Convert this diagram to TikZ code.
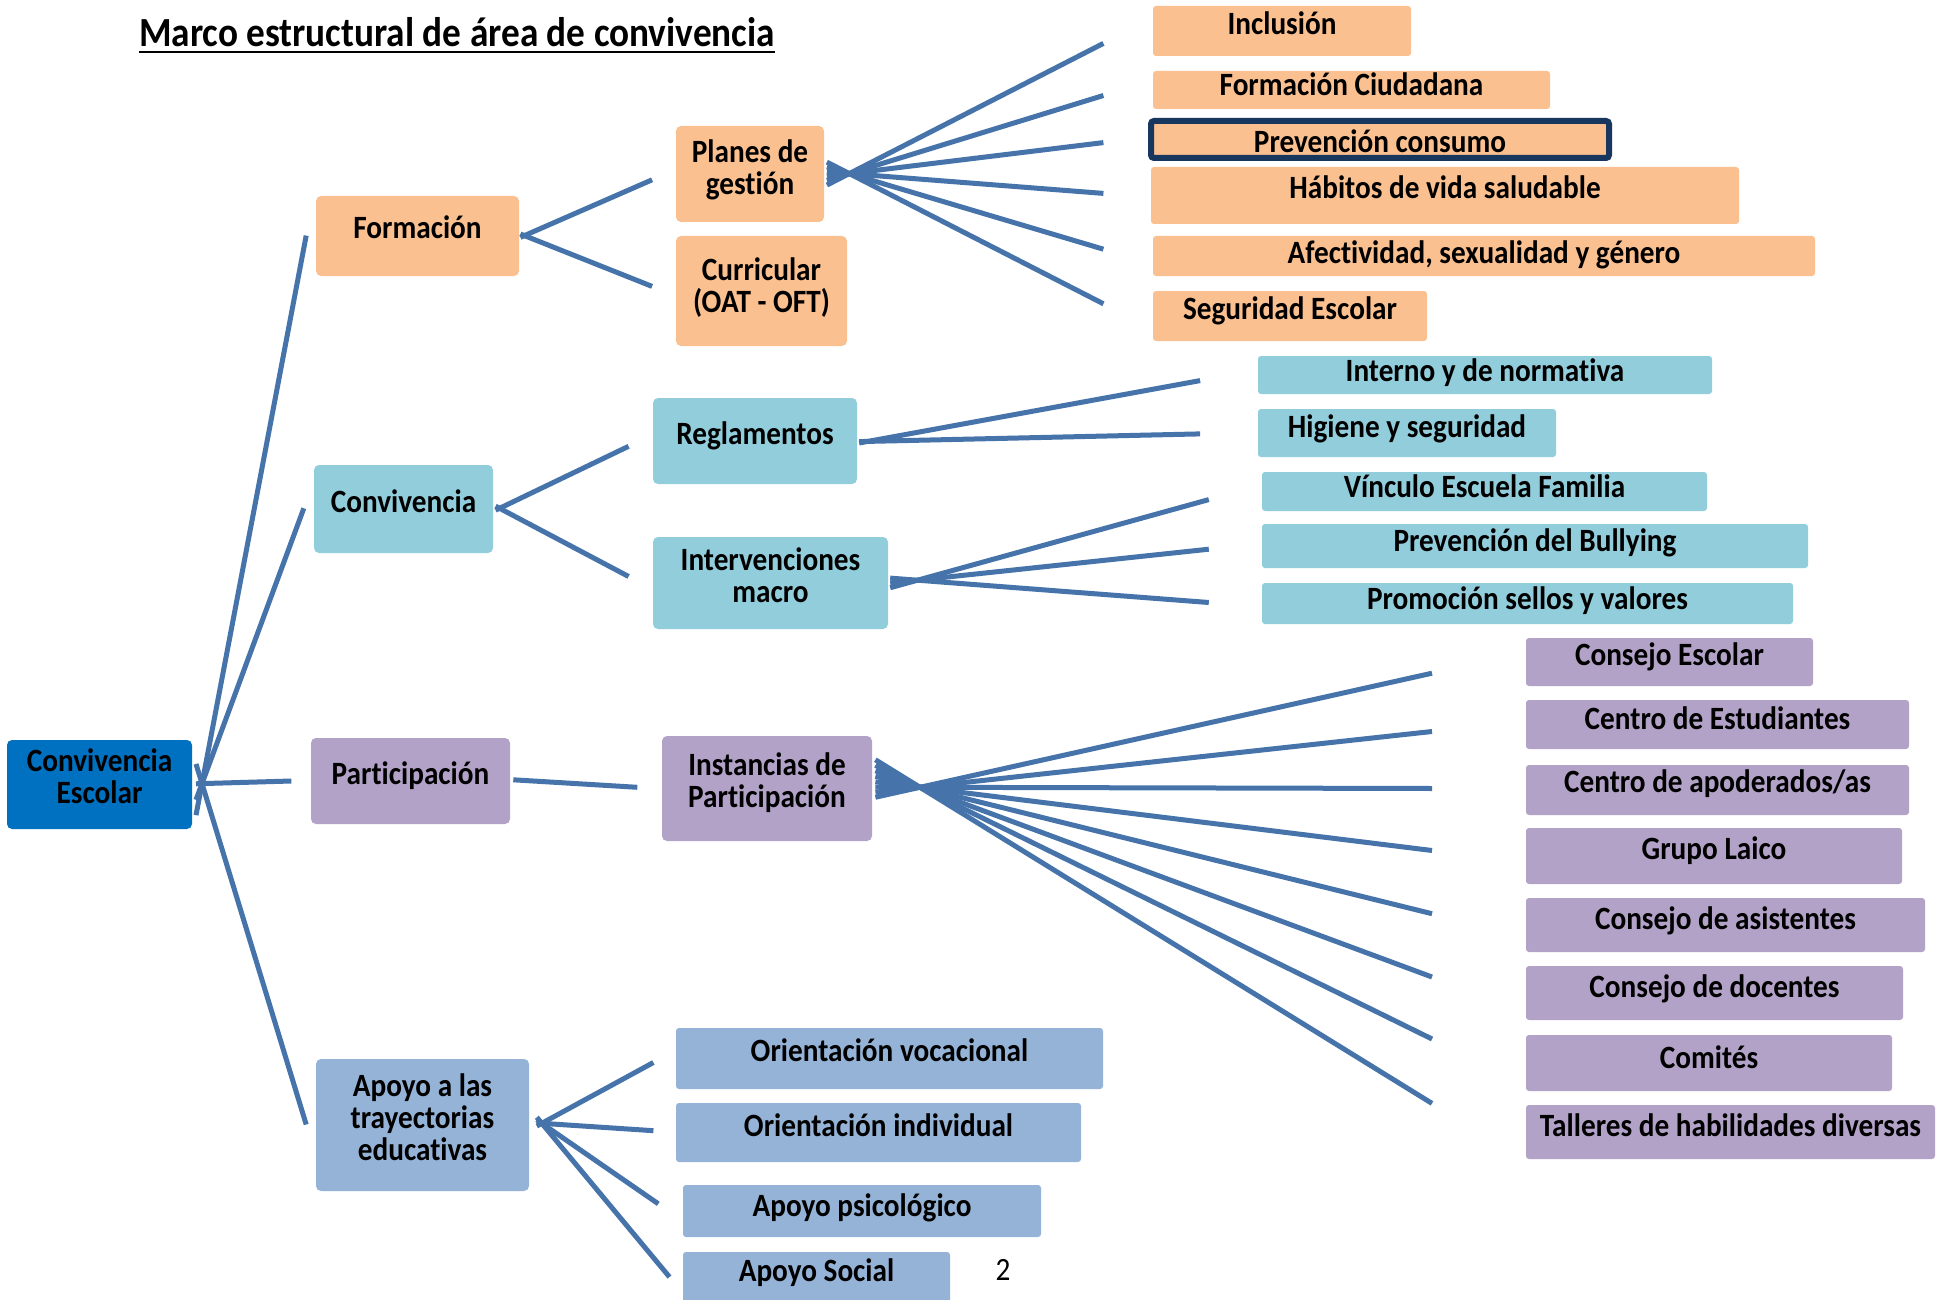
\documentclass[tikz,border=0pt]{standalone}
\usepackage{fontspec}
\setmainfont{Carlito}[FakeStretch=0.9, Ligatures=NoCommon]
\usetikzlibrary{calc}
\definecolor{orng}{RGB}{250,192,144}
\definecolor{tealb}{RGB}{146,205,220}
\definecolor{purp}{RGB}{179,162,199}
\definecolor{bgrey}{RGB}{149,179,215}
\definecolor{rootblue}{RGB}{0,112,192}
\definecolor{navy}{RGB}{23,55,94}
\definecolor{lineblue}{RGB}{70,116,170}
\tikzset{
 boxbase/.style={anchor=north west, inner sep=0pt, outer sep=0pt, rounded corners=5pt, draw=none},
 txt/.style={font=\fontsize{32.5}{32}\selectfont\bfseries, inner sep=0pt, align=center, text=black},
 conn/.style={draw=lineblue, line width=5pt},
}
\newcommand\bx[6]{\node[boxbase, fill=#2, minimum width={(#5)-(#3)}, minimum height={(#6)-(#4)}] (#1) at (#3,#4) {};}
\newcommand\fanline[3]{\draw[conn] let \p1=(#1), \p2=(#3) in ({\x1-#2pt},{\y1-(\y2-\y1)*#2/(\x2-\x1)}) -- (#3);}
\begin{document}
\begin{tikzpicture}[x=1pt,y=-1pt]
\useasboundingbox[fill=white] (0,0) rectangle (1944,1300);
% ---------- connector points
\coordinate (r0) at (202,783.6);
\coordinate (rF) at (306.2,235.6);
\coordinate (rC) at (303.8,508.3);
\coordinate (rP) at (291.4,781);
\coordinate (rA) at (306.2,1124.5);
\coordinate (f0) at (524.4,235.6);
\coordinate (f1) at (652.1,179.8);
\coordinate (f2) at (652.1,286.4);
\coordinate (g0) at (849.3,173.6);
\coordinate (g1) at (1103.4,43.4);
\coordinate (g2) at (1103.4,95.5);
\coordinate (g3) at (1103.4,142.6);
\coordinate (g4) at (1103.4,193.4);
\coordinate (g5) at (1103.4,249.2);
\coordinate (g6) at (1103.4,303.8);
\coordinate (c0) at (499.6,508.3);
\coordinate (c1) at (628.6,446.3);
\coordinate (c2) at (628.6,576.5);
\coordinate (re0) at (867.9,441.4);
\coordinate (re1) at (1200.1,380.6);
\coordinate (re2) at (1200.1,433.9);
\coordinate (iv0) at (917.5,580.2);
\coordinate (iv1) at (1208.8,499.6);
\coordinate (iv2) at (1208.8,549.2);
\coordinate (iv3) at (1208.8,602.5);
\coordinate (pa0) at (513.3,779.8);
\coordinate (pa1) at (637.3,787.3);
\coordinate (in0) at (920,787.3);
\coordinate (in1) at (1432,673.2);
\coordinate (in2) at (1432,731.5);
\coordinate (in3) at (1432,788.5);
\coordinate (in4) at (1432,850.5);
\coordinate (in5) at (1432,913.7);
\coordinate (in6) at (1432,977);
\coordinate (in7) at (1432,1039);
\coordinate (in8) at (1432,1103.4);
\coordinate (a0) at (541.8,1123.3);
\coordinate (a1) at (653.4,1062.5);
\coordinate (a2) at (653.4,1130.7);
\coordinate (a3) at (658.3,1203.8);
\coordinate (a4) at (669.5,1277);
% ---------- connectors
\foreach \e in {rF,rC,rP,rA} {\fanline{r0}{6}{\e}}
\foreach \e in {f1,f2} {\fanline{f0}{4}{\e}}
\foreach \e in {g1,g2,g3,g4,g5,g6} {\fanline{g0}{22.4}{\e}}
\foreach \e in {c1,c2} {\fanline{c0}{4}{\e}}
\foreach \e in {re1,re2} {\fanline{re0}{8.7}{\e}}
\foreach \e in {iv1,iv2,iv3} {\fanline{iv0}{27.3}{\e}}
\draw[conn] (pa0) -- (pa1);
\foreach \e in {in1,in2,in3,in4,in5,in6,in7,in8} {\fanline{in0}{44.6}{\e}}
\foreach \e in {a1,a2,a3,a4} {\fanline{a0}{5}{\e}}
% ---------- title
\node[font=\fontsize{41.4}{44}\selectfont\bfseries, inner sep=0pt, anchor=base] (title) at (457,47) {Marco estructural de área de convivencia};
\draw[line width=2.5pt] ([yshift=-5pt]title.base west) -- ([yshift=-5pt]title.base east);
% ---------- main boxes
\bx{root}{rootblue}{7}{740}{192}{829}
\node[txt] (root-t) at (99.5,776) {Convivencia\\Escolar};
\bx{form}{orng}{316}{196}{519}{276}
\node[txt, anchor=base] (form-t) at (417.5,239) {Formación};
\bx{conv}{tealb}{314}{465}{493}{553}
\node[txt, anchor=base] (conv-t) at (403.5,512) {Convivencia};
\bx{part}{purp}{311}{738}{510}{824}
\node[txt, anchor=base] (part-t) at (410.5,784) {Participación};
\bx{apoyo}{bgrey}{316}{1059}{529}{1191}
\node[txt] (apoyo-t) at (422.5,1117) {Apoyo a las\\trayectorias\\educativas};
\bx{plan}{orng}{676}{126}{824}{222}
\node[txt] (plan-t) at (750,170) {Planes de\\gestión};
\bx{curr}{orng}{676}{236}{847}{346}
\node[txt] (curr-t) at (761.5,287.5) {Curricular\\(OAT - OFT)};
\bx{regl}{tealb}{653}{398}{857}{484}
\node[txt, anchor=base] (regl-t) at (755,444) {Reglamentos};
\bx{interv}{tealb}{653}{537}{888}{629}
\node[txt] (interv-t) at (770.5,575.5) {Intervenciones\\macro};
\bx{inst}{purp}{662}{736}{872}{841}
\node[txt] (inst-t) at (767,783) {Instancias de\\Participación};
% ---------- leaves
\begin{scope}[boxbase/.append style={rounded corners=3pt}]
\bx{inc}{orng}{1153}{6}{1411}{56}
\node[txt, anchor=base] (inc-t) at (1282,35) {Inclusión};
\bx{fc}{orng}{1153}{71}{1550}{109}
\node[txt, anchor=base] (fc-t) at (1351.5,96) {Formación Ciudadana};
\node[anchor=north west, inner sep=0pt, outer sep=0pt, fill=orng, draw=navy, line width=6pt, rounded corners=3pt, minimum width=458pt, minimum height=37pt] (pcon) at (1151,121) {};
\node[txt, anchor=base] (pcon-t) at (1380,153) {Prevención consumo};
\bx{hab}{orng}{1151}{167}{1739}{224}
\node[txt, anchor=base] (hab-t) at (1445,198.5) {Hábitos de vida saludable};
\bx{afe}{orng}{1153}{236}{1815}{276}
\node[txt, anchor=base] (afe-t) at (1484,264) {Afectividad, sexualidad y género};
\bx{seg}{orng}{1153}{291}{1427}{341}
\node[txt, anchor=base] (seg-t) at (1290,319) {Seguridad Escolar};
% convivencia
\bx{int}{tealb}{1258}{356}{1712}{394}
\node[txt, anchor=base] (int-t) at (1485,381) {Interno y de normativa};
\bx{hig}{tealb}{1258}{409}{1556}{457}
\node[txt, anchor=base] (hig-t) at (1407,437) {Higiene y seguridad};
\bx{vin}{tealb}{1262}{472}{1707}{511}
\node[txt, anchor=base] (vin-t) at (1484.5,497) {Vínculo Escuela Familia};
\bx{bul}{tealb}{1262}{524}{1808}{568}
\node[txt, anchor=base] (bul-t) at (1535,551) {Prevención del Bullying};
\bx{pro}{tealb}{1262}{583}{1793}{624}
\node[txt, anchor=base] (pro-t) at (1527.5,609) {Promoción sellos y valores};
% participación
\bx{ce}{purp}{1526}{638}{1813}{686}
\node[txt, anchor=base] (ce-t) at (1669.5,665) {Consejo Escolar};
\bx{cest}{purp}{1526}{700}{1909}{749}
\node[txt, anchor=base] (cest-t) at (1717.5,729) {Centro de Estudiantes};
\bx{capo}{purp}{1526}{765}{1909}{815}
\node[txt, anchor=base] (capo-t) at (1717.5,792) {Centro de apoderados/as};
\bx{gl}{purp}{1526}{828}{1902}{884}
\node[txt, anchor=base] (gl-t) at (1714,859) {Grupo Laico};
\bx{cas}{purp}{1526}{898}{1925}{952}
\node[txt, anchor=base] (cas-t) at (1725.5,929) {Consejo de asistentes};
\bx{cdo}{purp}{1526}{966}{1903}{1020}
\node[txt, anchor=base] (cdo-t) at (1714.5,997) {Consejo de docentes};
\bx{com}{purp}{1526}{1035}{1892}{1091}
\node[txt, anchor=base] (com-t) at (1709,1068) {Comités};
\bx{tal}{purp}{1526}{1105}{1935}{1159}
\node[txt, anchor=base] (tal-t) at (1730.5,1136) {Talleres de habilidades diversas};
% apoyo
\bx{ov}{bgrey}{676}{1028}{1103}{1089}
\node[txt, anchor=base] (ov-t) at (889.5,1061) {Orientación vocacional};
\bx{oi}{bgrey}{676}{1103}{1081}{1162}
\node[txt, anchor=base] (oi-t) at (878.5,1136) {Orientación individual};
\bx{aps}{bgrey}{683}{1185}{1041}{1237}
\node[txt, anchor=base] (aps-t) at (862,1216) {Apoyo psicológico};
\bx{aso}{bgrey}{683}{1252}{950}{1308}
\node[txt, anchor=base] (aso-t) at (816.5,1281) {Apoyo Social};
\end{scope}
\node[font=\fontsize{32.5}{32}\selectfont, inner sep=0pt, anchor=base] (pagenum) at (1003,1280) {2};
\end{tikzpicture}
\end{document}
